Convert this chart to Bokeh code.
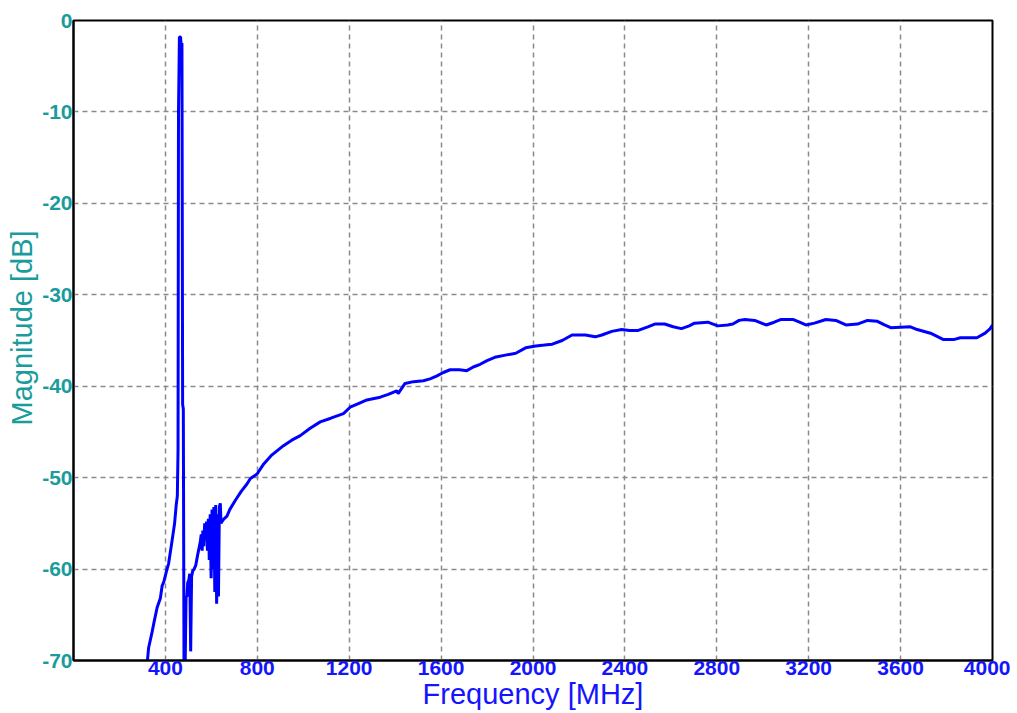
from bokeh.plotting import figure
from bokeh.models import FixedTicker, Title
from bokeh.embed import file_html
from bokeh.resources import INLINE

freq_mhz = [320, 327, 342, 349, 364, 378, 386, 393, 407, 414, 429, 440, 447, 452,
            455, 457, 461, 466, 468, 472, 475, 478, 481, 486, 490, 494, 497, 502,
            506, 510, 514, 519, 525, 532, 540, 548, 552, 556, 560, 563, 567, 571,
            575, 579, 583, 587, 591, 595, 599, 603, 607, 611, 615, 619, 623, 627,
            631, 635, 639, 642, 646, 655, 668, 680, 704, 730, 755, 770, 799, 828,
            860, 914, 950, 987, 1030, 1074, 1120, 1175, 1204, 1240, 1277, 1335,
            1370, 1407, 1413, 1443, 1480, 1523, 1552, 1580, 1610, 1639, 1680, 1712,
            1740, 1770, 1800, 1839, 1880, 1925, 1968, 2012, 2050, 2084, 2127, 2170,
            2228, 2271, 2300, 2343, 2386, 2420, 2458, 2500, 2530, 2573, 2610, 2646,
            2680, 2703, 2761, 2804, 2847, 2870, 2897, 2922, 2965, 3015, 3050, 3080,
            3131, 3160, 3188, 3225, 3275, 3318, 3362, 3412, 3456, 3499, 3530, 3557,
            3643, 3672, 3730, 3787, 3831, 3860, 3932, 3968, 3990, 4000]
mag_db = [-70.5, -68.6, -66.9, -66.0, -64.2, -63.2, -61.8, -61.4, -60.0, -59.4,
          -56.9, -55.0, -53.0, -52.0, -47.0, -10.0, -1.8, -1.8, -2.5, -2.5, -42.0,
          -42.5, -70.5, -70.5, -63.0, -63.0, -61.5, -61.2, -60.5, -69.0, -60.8,
          -60.2, -60.0, -59.6, -58.5, -57.5, -57.0, -56.2, -58.0, -55.8, -57.5,
          -55.0, -56.8, -54.8, -58.0, -54.5, -59.0, -54.0, -61.0, -53.5, -60.0,
          -53.2, -62.5, -53.0, -63.8, -54.0, -63.0, -53.2, -52.8, -55.0, -54.8,
          -54.5, -54.2, -53.5, -52.5, -51.5, -50.7, -50.1, -49.6, -48.5, -47.6,
          -46.5, -45.9, -45.4, -44.6, -43.9, -43.5, -43.0, -42.3, -41.9, -41.5,
          -41.2, -40.9, -40.5, -40.8, -39.7, -39.5, -39.4, -39.2, -38.9, -38.5,
          -38.2, -38.2, -38.3, -37.9, -37.6, -37.2, -36.8, -36.6, -36.4, -35.8,
          -35.6, -35.5, -35.4, -35.0, -34.4, -34.4, -34.6, -34.4, -34.0, -33.8,
          -33.9, -33.9, -33.5, -33.2, -33.2, -33.5, -33.7, -33.4, -33.1, -33.0,
          -33.4, -33.3, -33.2, -32.8, -32.7, -32.8, -33.3, -33.0, -32.7, -32.7,
          -33.0, -33.3, -33.1, -32.7, -32.8, -33.3, -33.2, -32.8, -32.9, -33.3,
          -33.6, -33.5, -33.8, -34.2, -34.9, -34.9, -34.7, -34.7, -34.2, -33.7,
          -33.3]

x_ticks = [400, 800, 1200, 1600, 2000, 2400, 2800, 3200, 3600, 4000]
y_ticks = [0, -10, -20, -30, -40, -50, -60, -70]
x_title = "Frequency [MHz]"
y_title = "Magnitude [dB]"

TEAL = "#1a9c9c"
BLUE = "#1414ff"
FONT = "Liberation Sans"

p = figure(width=1010, height=712, output_backend="svg", toolbar_location=None,
           x_range=(0, 4000), y_range=(-70, 0),
           min_border_left=73, min_border_right=18, min_border_top=20,
           min_border_bottom=52)
p.background_fill_color = "white"
p.border_fill_color = "white"
p.outline_line_color = "black"
p.outline_line_width = 2

p.xaxis.ticker = FixedTicker(ticks=x_ticks)
p.yaxis.ticker = FixedTicker(ticks=y_ticks)
p.yaxis.major_label_overrides = {t: str(t) for t in y_ticks}
p.xgrid.ticker = FixedTicker(ticks=x_ticks[:-1])
p.ygrid.ticker = FixedTicker(ticks=y_ticks[1:-1])
for g in (p.xgrid, p.ygrid):
    g.grid_line_color = "#8a8a8a"
    g.grid_line_width = 1.5
    g.grid_line_dash = "5 4"

for ax, col in ((p.xaxis, BLUE), (p.yaxis, TEAL)):
    ax.axis_line_color = "black"
    ax.axis_line_width = 2
    ax.major_tick_in = 0
    ax.major_tick_out = 0
    ax.minor_tick_in = 0
    ax.minor_tick_out = 0
    ax.major_label_text_font = FONT
    ax.major_label_text_font_style = "bold"
    ax.major_label_text_font_size = "21px"
    ax.major_label_text_color = col
    ax.major_label_text_line_height = 1.0
    ax.axis_label_text_font = FONT
    ax.axis_label_text_font_style = "normal"
    ax.axis_label_text_font_size = "29px"
    ax.axis_label_text_color = col
    ax.axis_label_text_line_height = 1.0
p.xaxis.major_label_standoff = 0
p.yaxis.major_label_standoff = 1
p.xaxis.axis_label = x_title
p.xaxis.axis_label_standoff = 0

# y-axis title, positioned slightly above the frame centre as in the reference
p.add_layout(Title(text=y_title, align="left", offset=235, standoff=3,
                   text_font=FONT, text_font_style="normal", text_font_size="29px",
                   text_color=TEAL, text_line_height=1.0), "left")

p.line(freq_mhz, mag_db, line_width=3, color="#0000ff")

open("out.html", "w").write(file_html(p, INLINE))
